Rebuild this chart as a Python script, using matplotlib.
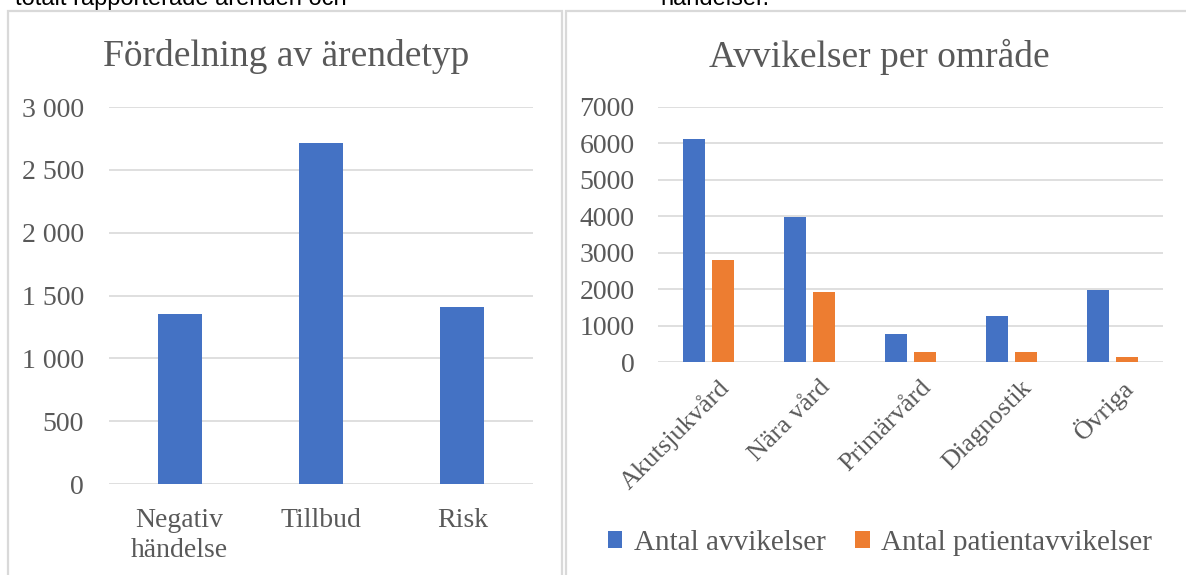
import matplotlib.pyplot as plt
import matplotlib.patches as mpatches
import numpy as np

plt.rcParams['font.family'] = "Liberation Serif"

# Fördelning av ärendetyp
typer = ['Negativ\nhändelse', 'Tillbud', 'Risk']
antal_typ = [1350, 2710, 1410]

# Avvikelser per område
omraden = ['Akutsjukvård', 'Nära vård', 'Primärvård', 'Diagnostik', 'Övriga']
avvikelser = [6130, 3990, 780, 1255, 1970]
patientavvikelser = [2810, 1930, 285, 285, 130]

blue = '#4472C4'
orange = '#ED7D31'
grey_txt = '#595959'
grid_col = '#D9D9D9'

W, H = 1186, 575
fig = plt.figure(figsize=(W / 100, H / 100), dpi=100)

# ramar runt diagrammen
fig.patches.append(mpatches.Rectangle((8 / W, -0.1), 554 / W, 1.1 - 11 / H, transform=fig.transFigure,
                                      fill=False, edgecolor=grid_col, lw=1.6))
fig.patches.append(mpatches.Rectangle((566 / W, -0.1), 0.6, 1.1 - 11 / H, transform=fig.transFigure,
                                      fill=False, edgecolor=grid_col, lw=1.6))

# text från dokumentet ovanför (avklippt)
fig.text(15 / W, 1 - 5 / H, 'totalt rapporterade ärenden och', family='Liberation Sans',
         fontsize=17, va='baseline', ha='left', color='black')
fig.text(660 / W, 1 - 5 / H, 'händelser.', family='Liberation Sans',
         fontsize=17, va='baseline', ha='left', color='black')

# rubriker centrerade över varje ram
fig.text(286 / W, 1 - 57 / H, 'Fördelning av ärendetyp', fontsize=27, color=grey_txt,
         ha='center', va='center')
fig.text(879 / W, 1 - 57 / H, 'Avvikelser per område', fontsize=27, color=grey_txt,
         ha='center', va='center')


def style(ax):
    for s in ax.spines.values():
        s.set_visible(False)
    ax.yaxis.grid(True, color=grid_col, lw=1.2)
    ax.set_axisbelow(True)
    ax.tick_params(length=0, labelsize=20, labelcolor=grey_txt)


ax1 = fig.add_axes([109 / W, 1 - 484 / H, 424 / W, 377 / H])
x1 = np.arange(len(typer))
ax1.bar(x1, antal_typ, width=0.31, color=blue)
ax1.set_xlim(-0.5, 2.5)
ax1.set_ylim(0, 3000)
ax1.set_yticks(np.arange(0, 3001, 500))
ax1.set_yticklabels([f'{v:,}'.replace(',', ' ') for v in range(0, 3001, 500)])
ax1.set_xticks(x1)
ax1.set_xticklabels(typer, linespacing=1.3)
style(ax1)
ax1.tick_params(axis='x', pad=17)
ax1.tick_params(axis='y', pad=18)

ax2 = fig.add_axes([658 / W, 1 - 362 / H, 505 / W, 255 / H])
x2 = np.arange(len(omraden))
w = 0.22
ax2.bar(x2 - 0.144, avvikelser, width=w, color=blue, label='Antal avvikelser')
ax2.bar(x2 + 0.144, patientavvikelser, width=w, color=orange, label='Antal patientavvikelser')
ax2.set_xlim(-0.5, 4.5)
ax2.set_ylim(0, 7000)
ax2.set_yticks(np.arange(0, 7001, 1000))
ax2.set_xticks(x2 + 0.17)
ax2.set_xticklabels(omraden, rotation=45, ha='right', va='center', rotation_mode='anchor')
style(ax2)
ax2.tick_params(axis='x', pad=16, labelsize=19)
ax2.tick_params(axis='y', pad=17)

leg = ax2.legend(loc='center', bbox_to_anchor=(880 / W, 1 - 543 / H), bbox_transform=fig.transFigure,
                 ncol=2, frameon=False, fontsize=21, handlelength=0.5, handleheight=0.5,
                 handletextpad=0.4, columnspacing=1.0)
for t in leg.get_texts():
    t.set_color(grey_txt)

fig.savefig('out.png', dpi=100)
